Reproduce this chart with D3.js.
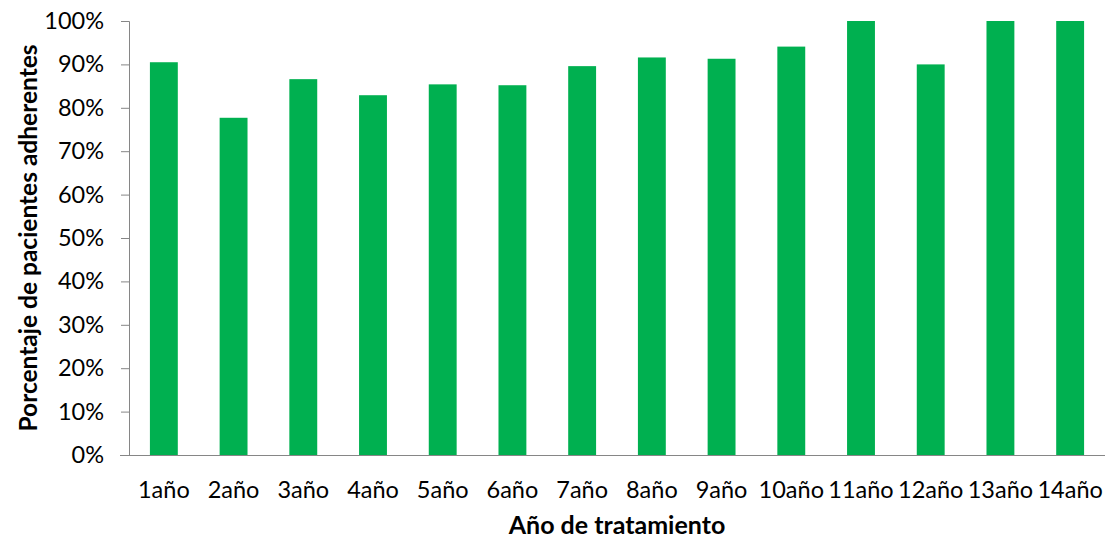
<!DOCTYPE html>
<html><head><meta charset="utf-8">
<script src="https://cdn.jsdelivr.net/npm/d3@7"></script>
<style>body{margin:0;background:#fff}svg{display:block}text{font-family:Lato,"Open Sans",sans-serif;fill:#000}</style>
</head><body><svg id="c" width="1110" height="540"></svg>
<script>
const categories = ["1año","2año","3año","4año","5año","6año","7año","8año","9año","10año","11año","12año","13año","14año"];
const values = [0.905,0.777,0.866,0.829,0.854,0.852,0.896,0.916,0.913,0.941,1.0,0.90,1.0,1.0];
const yTicks = [0,0.1,0.2,0.3,0.4,0.5,0.6,0.7,0.8,0.9,1.0];
const yTitle = "Porcentaje de pacientes adherentes";
const xTitle = "Año de tratamiento";

const svg = d3.select("#c");
const mLeft = 129, mRight = 1105, mTop = 21, mBottom = 455;
const x = d3.scaleBand().domain(categories).range([mLeft, mRight]).paddingInner(0.6).paddingOuter(0.3);
const y = d3.scaleLinear().domain([0,1]).range([mBottom, mTop]);

svg.append("g").selectAll("rect").data(values).join("rect")
  .attr("x",(d,i)=>x(categories[i])).attr("width",x.bandwidth())
  .attr("y",d=>y(d)).attr("height",d=>y(0)-y(d)).attr("fill","#00B050");

const ya = svg.append("g").attr("transform",`translate(${mLeft},0)`)
  .call(d3.axisLeft(y).tickValues(yTicks).tickFormat(d3.format(".0%")).tickSize(8).tickPadding(17));
ya.selectAll("line, path").attr("stroke","#868686");
ya.select(".domain").attr("d",`M-8,${mTop+0.5}H0.5V${mBottom}`);
ya.selectAll("text").style("font-size","23.5px").style("font-family","Lato, 'Open Sans', sans-serif");

const xa = svg.append("g").attr("transform",`translate(0,${mBottom})`)
  .call(d3.axisBottom(x).tickSize(0).tickPadding(26));
xa.select(".domain").attr("stroke","#868686").attr("d",`M${mLeft-9},0.5H${mRight}`);
xa.selectAll("text").style("font-size","23.5px").style("font-family","Lato, 'Open Sans', sans-serif");

svg.append("text").attr("x",(mLeft+mRight)/2).attr("y",534).attr("text-anchor","middle")
  .style("font-size","25px").style("font-weight","bold").text(xTitle);
svg.append("text").attr("transform",`translate(37,${(mTop+mBottom)/2}) rotate(-90)`).attr("text-anchor","middle")
  .style("font-size","24.5px").style("font-weight","bold").text(yTitle);
</script></body></html>
